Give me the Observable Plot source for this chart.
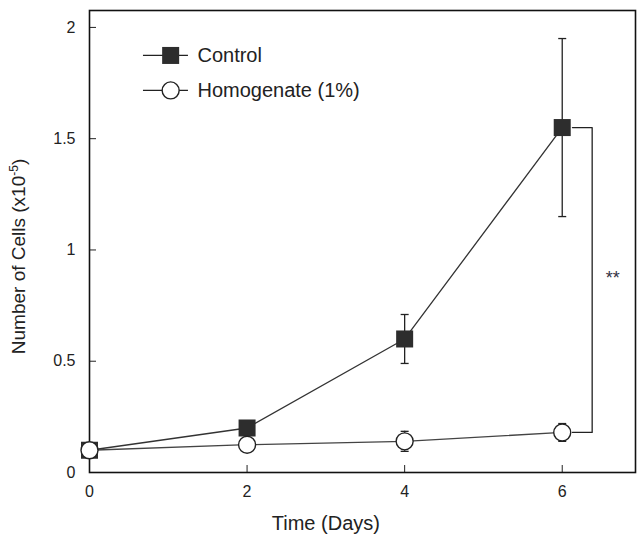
<!DOCTYPE html>
<html><head><meta charset="utf-8">
<script src="https://cdn.jsdelivr.net/npm/d3@7"></script>
<script src="https://cdn.jsdelivr.net/npm/@observablehq/plot@0.6"></script>
<style>body{margin:0;background:#fff}</style>
</head><body><div id="chart"></div>
<script>
const days = [0, 2, 4, 6];
const controlMean = [0.10, 0.20, 0.60, 1.55];
const controlErr = [0, 0, 0.11, 0.40];
const homogMean = [0.10, 0.125, 0.14, 0.18];
const homogErr = [0, 0, 0.045, 0.04];
const xTicks = [0, 2, 4, 6];
const yTicks = [0, 0.5, 1, 1.5, 2];
const seriesNames = ["Control", "Homogenate (1%)"];
const xTitle = "Time (Days)";
const yTitleMain = "Number of Cells (x10";
const yTitleSup = "-5";
const significance = "**";

const control = days.map((d, i) => ({day: d, v: controlMean[i], e: controlErr[i]}));
const homog = days.map((d, i) => ({day: d, v: homogMean[i], e: homogErr[i]}));

const ink = "#222";
const capSymbol = {draw(ctx, size) { const h = Math.sqrt(size / Math.PI); ctx.moveTo(-h, 0); ctx.lineTo(h, 0); }};

function errMarks(data) {
  const withErr = data.filter(d => d.e > 0);
  return [
    Plot.ruleX(withErr, {x: "day", y1: d => d.v - d.e, y2: d => d.v + d.e, stroke: ink, strokeWidth: 1.3}),
    Plot.dot(withErr, {x: "day", y: d => d.v + d.e, symbol: capSymbol, r: 4, stroke: ink, strokeWidth: 1.3}),
    Plot.dot(withErr, {x: "day", y: d => d.v - d.e, symbol: capSymbol, r: 4, stroke: ink, strokeWidth: 1.3})
  ];
}

// significance bracket from the last control point to the last homogenate point
const last = days.length - 1;
const bx0 = days[last] + 0.13, bx1 = days[last] + 0.38;
const bracket = [
  {x: bx0, y: controlMean[last]}, {x: bx1, y: controlMean[last]},
  {x: bx1, y: homogMean[last]}, {x: bx0, y: homogMean[last]}
];

// legend placement (data units)
const legX0 = 0.685, legX1 = 1.256, legXm = 1.03, legXt = 1.37;
const legY = [1.874, 1.717];

const chart = Plot.plot({
  width: 644, height: 548,
  marginLeft: 89, marginTop: 10, marginRight: 9, marginBottom: 76,
  style: {fontFamily: "'Liberation Sans', Arial, sans-serif", fontSize: "16px", color: ink, background: "#fff"},
  x: {domain: [0, 6.93]},
  y: {domain: [0, 2.076]},
  marks: [
    Plot.axisX({ticks: xTicks, tickSize: -7, tickPadding: 20, tickFormat: d => String(d), label: null, stroke: ink, fill: ink, fontSize: 16}),
    Plot.axisY({ticks: yTicks, tickSize: -7, tickPadding: 21, tickFormat: d => String(d), label: null, stroke: ink, fill: ink, fontSize: 16}),
    Plot.frame({stroke: "#111", strokeWidth: 1.6}),
    Plot.line(bracket, {x: "x", y: "y", stroke: ink, strokeWidth: 1.3}),
    Plot.text([significance], {x: 6.64, y: 0.875, text: d => d, fill: "#334", fontSize: 18}),
    ...errMarks(control),
    ...errMarks(homog),
    Plot.line(homog, {x: "day", y: "v", stroke: "#444", strokeWidth: 1.3}),
    Plot.line(control, {x: "day", y: "v", stroke: "#333", strokeWidth: 1.3}),
    Plot.dot(control, {x: "day", y: "v", symbol: "square", r: 9.6, fill: "#2d2d2d", stroke: "none"}),
    Plot.dot(homog, {x: "day", y: "v", symbol: "circle", r: 8.5, fill: "#fff", stroke: ink, strokeWidth: 1.4}),
    // legend
    Plot.ruleY(legY, {y: d => d, x1: legX0, x2: legX1, stroke: ink, strokeWidth: 1.3}),
    Plot.dot([legY[0]], {x: legXm, y: d => d, symbol: "square", r: 9.6, fill: "#2d2d2d"}),
    Plot.dot([legY[1]], {x: legXm, y: d => d, symbol: "circle", r: 8.5, fill: "#fff", stroke: ink, strokeWidth: 1.4}),
    Plot.text(seriesNames, {x: legXt, y: (d, i) => legY[i], text: d => d, textAnchor: "start", fontSize: 20, fill: ink}),
    // axis titles
    Plot.text([xTitle], {x: 3, frameAnchor: "bottom", dy: 57, text: d => d, fontSize: 20, fill: ink}),
    Plot.text([yTitleMain], {frameAnchor: "left", textAnchor: "middle", dx: -71, dy: 15, rotate: -90, text: d => d, fontSize: 19, fill: ink})
  ]
});
document.getElementById("chart").appendChild(chart);

// superscript exponent on the y title
d3.select(chart).selectAll("text").filter(function() { return this.textContent === yTitleMain; }).each(function() {
  const t = d3.select(this);
  t.text(null);
  t.append("tspan").text(yTitleMain);
  t.append("tspan").attr("baseline-shift", "super").attr("font-size", 12).text(yTitleSup);
  t.append("tspan").text(")");
});
</script>
</body></html>
